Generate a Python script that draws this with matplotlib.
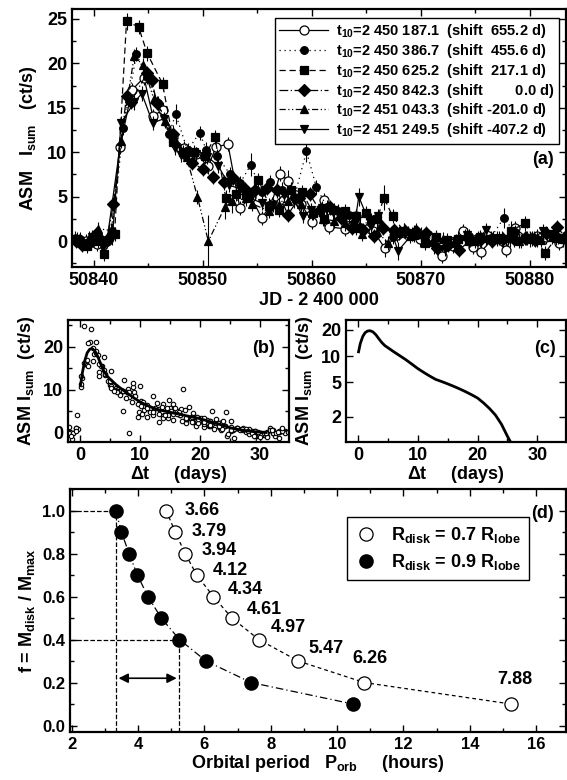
import numpy as np
import matplotlib
matplotlib.use("Agg")
import matplotlib.pyplot as plt
from matplotlib.ticker import MultipleLocator, FixedLocator, NullLocator, FormatStrFormatter

plt.rcParams['font.family'] = ['Liberation Sans', 'DejaVu Sans']
plt.rcParams['font.weight'] = 'bold'
plt.rcParams['axes.labelweight'] = 'bold'
plt.rcParams['mathtext.fontset'] = 'custom'
plt.rcParams['mathtext.rm'] = 'Liberation Sans:bold'
plt.rcParams['mathtext.bf'] = 'Liberation Sans:bold'
plt.rcParams['mathtext.it'] = 'Liberation Sans:bold'
plt.rcParams['mathtext.default'] = 'bf'

# ---- panel (a): six outbursts, shifted onto the 1998 one ----
jd1 = [50838.3, 50839.3, 50840.3, 50841.2, 50842.4, 50843.5, 50844.6, 50845.4, 50846.3, 50847.3,
       50848.3, 50849.4, 50850.5, 50851.2, 50852.3, 50853.4, 50854.4, 50855.4, 50856.3, 50857.1,
       50857.8, 50859.0, 50860.0, 50861.1, 50861.6, 50863.0, 50864.0, 50864.7, 50865.6, 50866.7,
       50867.8, 50868.8, 50869.9, 50870.9, 50871.9, 50872.9, 50873.9, 50874.8, 50875.5, 50876.6,
       50877.8, 50878.6, 50879.7, 50880.6, 50881.5, 50882.7]
cs1 = [0.3, 0.0, -0.3, 0.0, 10.6, 17.0, 18.4, 14.1, 14.7, 11.7,
       10.5, 9.8, 8.4, 10.6, 10.9, 3.7, 5.0, 2.6, 4.2, 7.6,
       6.8, 4.2, 2.2, 4.6, 1.6, 1.4, 2.8, 2.3, 1.2, -0.8,
       0.7, 0.9, 0.2, 0.4, -1.7, -0.5, 1.1, -0.6, -1.2, 0.3,
       -0.95, 1.5, 0.4, 0.6, 0.5, -0.2]

jd2 = [50838.7, 50839.7, 50840.7, 50841.7, 50842.7, 50843.9, 50844.9, 50845.9, 50846.9, 50847.5,
       50848.6, 50849.7, 50850.3, 50851.3, 50852.5, 50853.4, 50854.4, 50855.4, 50856.2, 50857.3,
       50858.4, 50859.5, 50860.4, 50861.4, 50862.4, 50863.4, 50864.4, 50865.4, 50866.4, 50867.4,
       50868.4, 50869.4, 50870.4, 50871.4, 50872.4, 50873.4, 50874.4, 50875.4, 50876.4, 50877.6,
       50878.6, 50879.6, 50880.6, 50881.6, 50882.6]
cs2 = [0.2, -0.2, 0.3, 1.2, 12.7, 21.0, 18.5, 15.5, 12.0, 14.3,
       10.2, 12.2, 10.3, 9.6, 7.5, 6.5, 8.6, 5.5, 6.6, 5.8,
       5.0, 10.1, 6.1, 3.8, 3.4, 3.0, 1.6, 2.4, 1.6, 0.5,
       1.2, 1.0, 0.6, 0.4, -0.3, -0.8, 0.6, 0.2, 0.4, 2.6,
       1.0, 0.4, 0.2, 0.8, 0.5]

jd3 = [50838.5, 50839.4, 50840.4, 50840.9, 50841.9, 50843.0, 50844.1, 50844.9, 50846.3, 50847.3,
       50848.2, 50849.2, 50850.2, 50851.1, 50852.1, 50853.0, 50854.0, 50855.1, 50856.1, 50857.0,
       50858.1, 50859.1, 50860.1, 50861.1, 50862.0, 50863.0, 50864.0, 50865.0, 50866.0, 50866.6,
       50867.4, 50868.4, 50869.4, 50870.4, 50871.4, 50872.4, 50873.4, 50874.4, 50875.4, 50876.4,
       50877.4, 50878.3, 50879.5, 50880.4, 50881.4, 50882.4, 50883.2]
cs3 = [0.2, -0.5, 0.0, -1.4, 0.8, 24.7, 24.1, 21.1, 17.7, 11.2,
       10.0, 10.0, 9.6, 11.7, 4.9, 5.3, 5.2, 6.9, 4.0, 3.5,
       5.8, 5.5, 3.2, 2.5, 3.5, 3.4, 2.8, 3.2, 2.5, 4.9,
       2.8, 1.2, 0.7, -0.2, 0.5, 0.1, 0.3, 0.0, 0.5, 0.2,
       0.3, 1.2, 2.0, 0.3, -1.3, 0.4, 0.3]

jd4 = [50838.4, 50838.9, 50840.2, 50841.2, 50841.8, 50843.0, 50843.4, 50844.9, 50845.3, 50845.8,
       50847.3, 50848.4, 50849.0, 50850.0, 50850.9, 50851.9, 50852.8, 50853.9, 50854.8, 50855.9,
       50856.8, 50857.8, 50858.8, 50859.8, 50860.7, 50861.7, 50862.7, 50863.7, 50864.7, 50865.7,
       50866.5, 50867.5, 50868.5, 50869.5, 50870.5, 50871.5, 50872.5, 50873.5, 50874.5, 50875.5,
       50876.5, 50877.5, 50878.5, 50879.5, 50880.5, 50881.5, 50882.5, 50883.2]
cs4 = [0.0, -0.4, 0.8, 0.1, 4.2, 16.3, 15.7, 18.9, 18.1, 15.5,
       12.1, 9.8, 8.8, 8.1, 7.2, 6.6, 7.1, 5.9, 5.7, 6.0,
       5.7, 3.0, 4.8, 5.3, 3.5, 3.8, 2.6, 1.5, 1.3, 0.6,
       1.5, 1.3, 1.1, 1.2, 0.9, -0.8, -0.4, -1.0, 0.1, 0.2,
       0.0, 0.2, 0.2, 0.4, 0.1, 0.9, 1.6, 0.5]

jd5 = [50838.6, 50839.6, 50840.4, 50841.6, 50842.5, 50843.7, 50844.5, 50845.5, 50846.5, 50847.5,
       50848.5, 50849.5, 50850.5, 50852.0, 50852.7, 50854.0, 50854.5, 50856.1, 50857.0, 50857.8,
       50859.0, 50860.0, 50861.0, 50862.0, 50863.0, 50864.0, 50864.6, 50866.0, 50867.0, 50868.0,
       50869.0, 50870.0, 50871.0, 50872.0, 50873.0, 50874.0, 50875.0, 50876.0, 50877.0, 50878.0,
       50879.0, 50880.0, 50881.0, 50882.0, 50883.0]
cs5 = [0.0, 0.4, 1.4, 1.2, 11.3, 20.8, 19.8, 16.0, 13.5, 11.0,
       9.5, 5.0, 0.0, 3.8, 4.5, 4.8, 4.2, 3.4, 4.1, 4.5,
       4.2, 3.2, 2.5, 2.3, 2.0, 1.5, 0.8, 1.0, -0.2, 0.9,
       0.6, 0.8, -0.1, 0.2, -0.1, 0.6, 0.0, 0.4, 0.3, 0.4,
       0.0, 0.2, 0.1, 0.5, 0.2]

jd6 = [50838.8, 50839.8, 50840.8, 50841.7, 50842.5, 50843.7, 50844.4, 50845.4, 50846.4, 50847.4,
       50848.0, 50849.4, 50850.4, 50851.4, 50852.4, 50853.4, 50854.4, 50855.4, 50856.4, 50857.4,
       50858.4, 50859.2, 50859.9, 50860.9, 50861.9, 50862.9, 50863.9, 50864.3, 50865.4, 50866.1,
       50867.4, 50867.9, 50869.2, 50870.2, 50871.2, 50872.2, 50873.2, 50874.2, 50875.2, 50876.0,
       50877.2, 50878.2, 50879.2, 50880.2, 50881.2, 50882.2, 50883.2]
cs6 = [-0.2, 0.5, -0.6, 0.4, 13.3, 15.6, 16.6, 13.3, 13.75, 10.5,
       9.7, 9.8, 9.5, 8.5, 6.3, 5.9, 4.8, 4.3, 4.1, 5.2,
       4.5, 2.8, 3.5, 3.7, 3.3, 2.5, 1.8, 5.0, 1.7, 2.8,
       0.7, -1.1, 0.8, 0.5, -0.6, -0.9, 0.0, 0.7, 0.3, 1.25,
       0.4, 0.2, 0.0, 0.3, 1.1, 0.8, 0.3]

# typical 1-sigma error and the few large ones (index: error)
err_base = 0.8
err_big = [{20: 1.2, 29: 1.0}, {9: 1.1, 16: 1.3, 21: 1.2, 39: 1.1}, {5: 1.0, 29: 1.4, 41: 1.1},
           {10: 1.0}, {12: 3.0, 13: 1.3, 14: 1.3}, {27: 1.0, 31: 1.0}]

series_jd = [jd1, jd2, jd3, jd4, jd5, jd6]
series_cs = [cs1, cs2, cs3, cs4, cs5, cs6]
leg_t10 = ['2 450 187.1', '2 450 386.7', '2 450 625.2', '2 450 842.3', '2 451 043.3', '2 451 249.5']
leg_shift = ['  655.2', '  455.6', '  217.1', '        0.0', ' -201.0', ' -407.2']
t_ref = 50842.3

# ---- panels (b), (c): mean outburst profile ----
dt_fit = [0.1, 0.4, 0.8, 1.2, 1.6, 2.0, 2.5, 3.0, 3.5, 4.0, 4.5, 5.0, 6.0, 7.0, 8.0, 9.0, 10.0,
          11.0, 12.0, 13.0, 14.0, 15.0, 16.0, 17.0, 18.0, 19.0, 20.0, 21.0, 22.0, 23.0, 24.0,
          25.0, 26.0, 27.0, 28.0, 29.0, 30.0, 31.0]
cs_fit = [11.2, 14.0, 16.8, 18.6, 19.4, 19.6, 19.0, 17.6, 15.8, 14.3, 13.2, 12.5, 11.2, 10.1, 9.1,
          8.1, 7.2, 6.5, 5.9, 5.4, 5.1, 4.8, 4.5, 4.2, 3.9, 3.6, 3.3, 2.9, 2.5, 2.1, 1.65,
          1.2, 0.9, 0.65, 0.45, 0.3, 0.2, 0.1]

# ---- panel (d) ----
f_frac = [1.0, 0.9, 0.8, 0.7, 0.6, 0.5, 0.4, 0.3, 0.2, 0.1]
p_07 = [4.85, 5.12, 5.42, 5.77, 6.27, 6.83, 7.64, 8.83, 10.82, 15.25]
p_09 = [3.33, 3.50, 3.73, 3.98, 4.30, 4.70, 5.25, 6.05, 7.41, 10.48]
dt_lab = ['3.66', '3.79', '3.94', '4.12', '4.34', '4.61', '4.97', '5.47', '6.26', '7.88']

W, H = 567, 780
fig = plt.figure(figsize=(W / 100, H / 100), dpi=100)


def frame(ax, fs):
    for s in ax.spines.values():
        s.set_linewidth(1.6)
    ax.tick_params(which='both', direction='in', top=True, right=True, width=1.0, labelsize=fs)
    ax.tick_params(which='major', length=5)
    ax.tick_params(which='minor', length=3)


def box(l, t, r, b):
    return fig.add_axes([l / W, 1 - b / H, (r - l) / W, (b - t) / H])


# ===== (a) =====
ax = box(72, 9, 566, 267)
markers = ['o', 'o', 's', 'D', '^', 'v']
mfcs = ['white', 'black', 'black', 'black', 'black', 'black']
msizes = [6.5, 5.5, 6.0, 6.0, 6.0, 6.0]
styles = ['-', (0, (1, 3)), (0, (5, 3)), (0, (7, 2, 1, 2)), (0, (5, 2, 1, 2, 1, 2)), '-']
for i in range(6):
    x = np.array(series_jd[i])
    y = np.array(series_cs[i])
    e = np.full(len(x), err_base)
    for k, v in err_big[i].items():
        e[k] = v
    ax.errorbar(x, y, yerr=e, fmt='none', ecolor='black', elinewidth=0.8, capsize=0)
    ax.plot(x, y, linestyle=styles[i], color='black', lw=0.9, marker=markers[i],
            ms=msizes[i], mfc=mfcs[i], mec='black', mew=0.9,
            label=r'$\mathbf{t}_{\mathbf{10}}$=' + leg_t10[i] + '  (shift' + leg_shift[i] + ' d)')
ax.set_xlim(50838.0, 50883.3)
ax.set_ylim(-2.9, 26.1)
ax.xaxis.set_major_locator(MultipleLocator(10))
ax.xaxis.set_minor_locator(MultipleLocator(5))
ax.yaxis.set_major_locator(MultipleLocator(5))
ax.yaxis.set_minor_locator(MultipleLocator(2.5))
frame(ax, 13)
ax.set_xlabel('JD - 2 400 000', fontsize=13, labelpad=2)
ax.set_ylabel(r'ASM   $I_{sum}$   (ct/s)', fontsize=13, labelpad=6)
leg = ax.legend(loc='upper left', bbox_to_anchor=(0.41, 0.965), borderaxespad=0, fontsize=10.5,
                handlelength=3.4, handletextpad=0.5, labelspacing=0.12, borderpad=0.3,
                fancybox=False, edgecolor='black', framealpha=1)
leg.get_frame().set_linewidth(1.0)
ax.text(0.975, 0.415, '(a)', transform=ax.transAxes, ha='right', va='center', fontsize=13)

# ===== (b) =====
ax = box(68, 320, 289, 442)
for i in range(6):
    ax.plot(np.array(series_jd[i]) - t_ref, series_cs[i], 'o', ms=3.2, mfc='white', mec='black', mew=0.8)
ax.plot(dt_fit, cs_fit, '-', color='black', lw=2.0)
ax.set_xlim(-2.0, 34.8)
ax.set_ylim(-2.1, 26.2)
ax.xaxis.set_major_locator(MultipleLocator(10))
ax.xaxis.set_minor_locator(MultipleLocator(5))
ax.yaxis.set_major_locator(MultipleLocator(10))
ax.yaxis.set_minor_locator(MultipleLocator(5))
frame(ax, 13)
ax.set_xlabel(r'$\Delta$t     (days)', fontsize=13, labelpad=0)
ax.set_ylabel(r'ASM $I_{sum}$  (ct/s)', fontsize=13, labelpad=4)
ax.text(0.935, 0.77, '(b)', transform=ax.transAxes, ha='right', va='center', fontsize=13)

# ===== (c) =====
ax = box(346, 320, 566, 442)
ax.plot(dt_fit, cs_fit, '-', color='black', lw=2.0)
ax.set_yscale('log')
ax.set_xlim(-2.0, 34.8)
ax.set_ylim(1.03, 26.0)
ax.xaxis.set_major_locator(MultipleLocator(10))
ax.xaxis.set_minor_locator(MultipleLocator(5))
ax.yaxis.set_major_locator(FixedLocator([2, 5, 10, 20]))
ax.yaxis.set_major_formatter(FormatStrFormatter('%d'))
ax.yaxis.set_minor_locator(NullLocator())
frame(ax, 13)
ax.set_xlabel(r'$\Delta$t     (days)', fontsize=13, labelpad=0)
ax.set_ylabel(r'ASM $I_{sum}$  (ct/s)', fontsize=13, labelpad=4)
ax.text(0.955, 0.77, '(c)', transform=ax.transAxes, ha='right', va='center', fontsize=13)

# ===== (d) =====
ax = box(70, 489, 566, 732)
ax.plot(p_07, f_frac, linestyle=(0, (3, 2.5)), color='black', lw=0.9, marker='o', ms=9.5,
        mfc='white', mec='black', mew=0.9, label=r'$R_{disk}$ = 0.7 $R_{lobe}$')
ax.plot(p_09, f_frac, linestyle=(0, (6, 2.5, 1, 2.5)), color='black', lw=0.9, marker='o', ms=9.5,
        mfc='black', mec='black', label=r'$R_{disk}$ = 0.9 $R_{lobe}$')
offs = [(18, 0), (16, 1), (16, 3), (16, 5), (14, 7), (15, 9), (12, 12), (10, 13), (-12, 16), (-14, 16)]
for p, f, s, o in zip(p_07, f_frac, dt_lab, offs):
    ax.annotate(s, (p, f), xytext=o, textcoords='offset pixels', ha='left', va='bottom' if o[1] > 14 else 'center',
                fontsize=13)
xl = (1.95, 16.9)
yl = (-0.03, 1.1)
ax.plot([xl[0], p_09[0]], [f_frac[0], f_frac[0]], '--', color='black', lw=0.9)
ax.plot([p_09[0], p_09[0]], [yl[0], f_frac[0]], '--', color='black', lw=0.9)
ax.plot([xl[0], p_09[6]], [f_frac[6], f_frac[6]], '--', color='black', lw=0.9)
ax.plot([p_09[6], p_09[6]], [yl[0], f_frac[6]], '--', color='black', lw=0.9)
ax.annotate('', xy=(p_09[6], 0.22), xytext=(p_09[0], 0.22),
            arrowprops=dict(arrowstyle='<|-|>', color='black', lw=1.2, mutation_scale=14))
ax.set_xlim(*xl)
ax.set_ylim(*yl)
ax.xaxis.set_major_locator(MultipleLocator(2))
ax.xaxis.set_minor_locator(MultipleLocator(1))
ax.yaxis.set_major_locator(MultipleLocator(0.2))
ax.yaxis.set_minor_locator(MultipleLocator(0.1))
ax.yaxis.set_major_formatter(FormatStrFormatter('%.1f'))
frame(ax, 12)
ax.set_xlabel(r'Orbital period   $P_{orb}$     (hours)', fontsize=13, labelpad=1)
ax.set_ylabel(r'f = $M_{disk}$ / $M_{max}$', fontsize=13, labelpad=4)
leg = ax.legend(loc='upper left', bbox_to_anchor=(0.558, 0.886), borderaxespad=0, fontsize=13,
                handlelength=1.2, handletextpad=0.8, labelspacing=0.4, borderpad=0.45,
                fancybox=False, edgecolor='black', framealpha=1)
for h in leg.legend_handles:
    h.set_linestyle('none')
leg.get_frame().set_linewidth(1.0)
ax.text(0.975, 0.9, '(d)', transform=ax.transAxes, ha='right', va='center', fontsize=13)

fig.savefig('out.png', dpi=100)
